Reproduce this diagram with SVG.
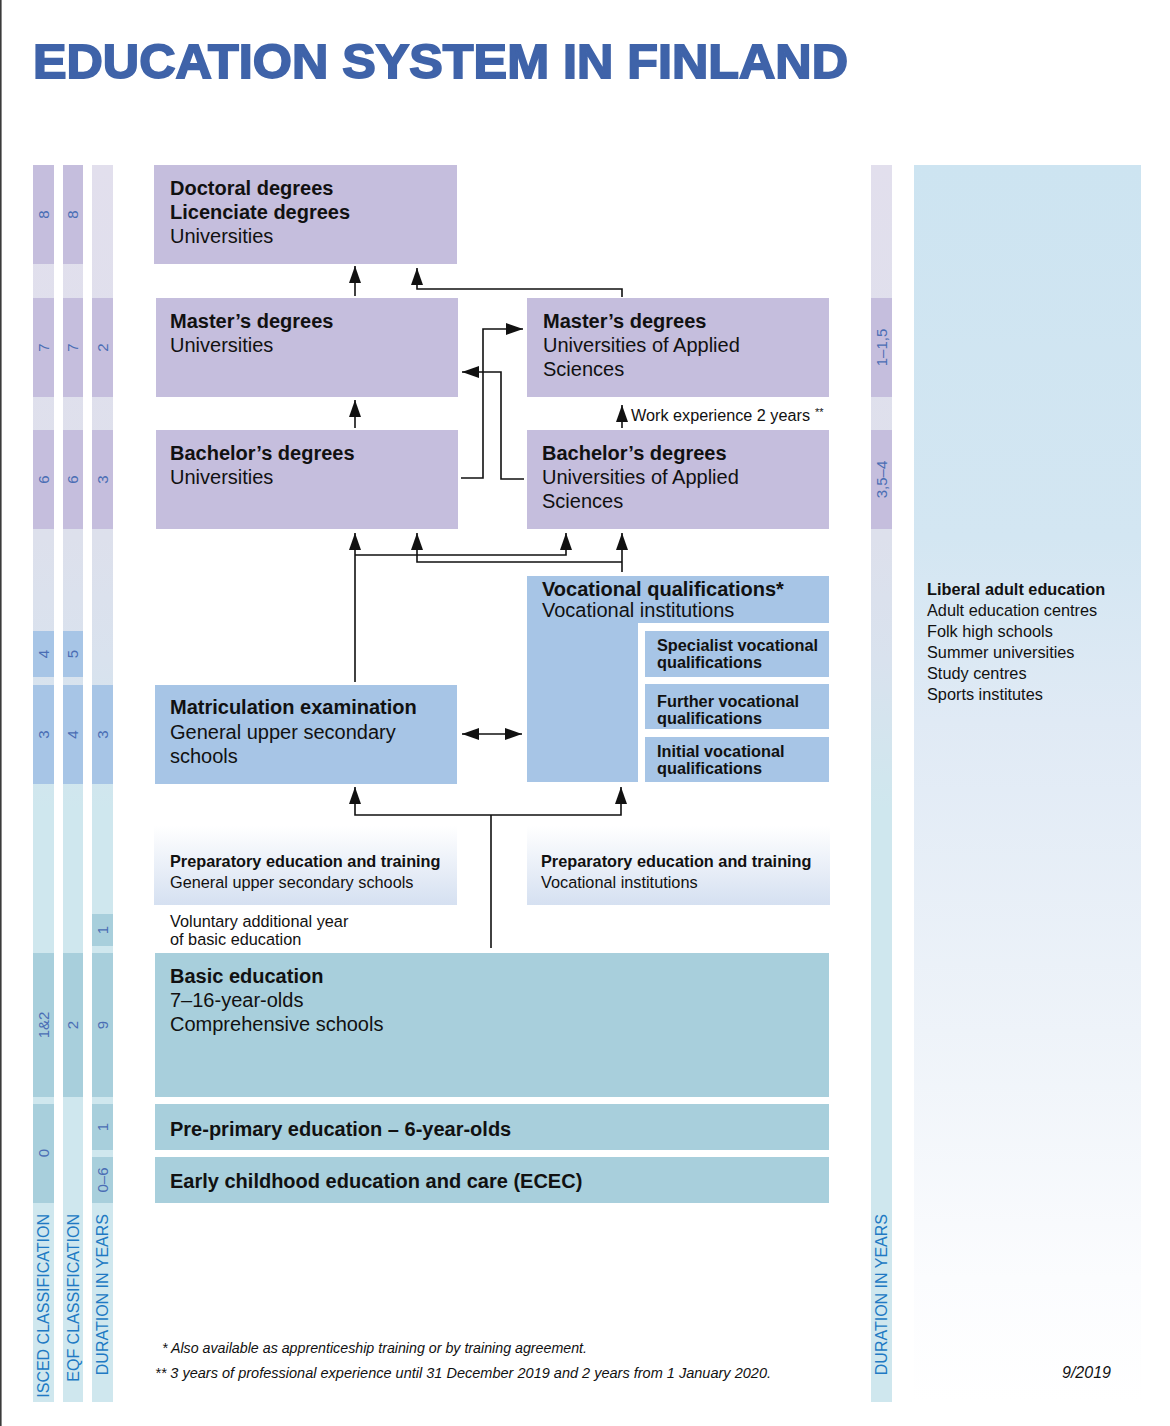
<svg xmlns="http://www.w3.org/2000/svg" width="1170" height="1426" viewBox="0 0 1170 1426">
<style>
text{font-family:"Liberation Sans",Arial,sans-serif;fill:#111}
.b{font-weight:bold}
.t20{font-size:20px}
.t16{font-size:16.3px}
.num{font-size:15px;fill:#4a6db4;text-anchor:middle}
.lab{font-size:16px;fill:#2079c3;text-anchor:end}
.pu{fill:#c5bedd}
.bl{fill:#a7c5e6}
.te{fill:#a8cfdc}
.ln{fill:none;stroke:#111;stroke-width:1.6}
.fn{font-size:14px;font-style:italic}
</style>
<defs>
<marker id="ah" markerUnits="userSpaceOnUse" markerWidth="17" markerHeight="12" refX="17" refY="6" orient="auto-start-reverse" viewBox="0 0 17 12">
<path d="M0,0 L17,6 L0,12 z" fill="#111"/>
</marker>
<linearGradient id="strip" x1="0" y1="165" x2="0" y2="1402" gradientUnits="userSpaceOnUse">
<stop offset="0" stop-color="#e2dfed"/>
<stop offset="0.3" stop-color="#dde0ec"/>
<stop offset="0.4" stop-color="#d9e2ee"/>
<stop offset="0.52" stop-color="#cfe7ee"/>
<stop offset="1" stop-color="#cfe7ee"/>
</linearGradient>
<linearGradient id="prep" x1="0" y1="0" x2="0" y2="1">
<stop offset="0" stop-color="#ffffff"/>
<stop offset="1" stop-color="#d5e0f1"/>
</linearGradient>
<linearGradient id="lib" x1="0" y1="165" x2="0" y2="1402" gradientUnits="userSpaceOnUse">
<stop offset="0" stop-color="#cde4f1"/>
<stop offset="0.3" stop-color="#d3e6f2"/>
<stop offset="0.45" stop-color="#e0eaf5"/>
<stop offset="0.7" stop-color="#eef3f9"/>
<stop offset="0.9" stop-color="#fbfcfe"/>
<stop offset="1" stop-color="#ffffff"/>
</linearGradient>
</defs>
<rect x="0" y="0" width="1170" height="1426" fill="#ffffff"/>
<rect x="0" y="0" width="1.6" height="1426" fill="#3a3a3a"/>
<text x="33" y="78" font-size="49" font-weight="bold" textLength="815" lengthAdjust="spacingAndGlyphs" style="fill:#3f63a9;stroke:#3f63a9;stroke-width:1.8">EDUCATION SYSTEM IN FINLAND</text>

<g id="isced-strip">
<rect x="33" y="165" width="21" height="1237" fill="url(#strip)"/>
<rect class="pu" x="33" y="165" width="21" height="99"/>
<rect class="pu" x="33" y="298" width="21" height="99"/>
<rect class="pu" x="33" y="430" width="21" height="99"/>
<rect class="bl" x="33" y="631" width="21" height="46"/>
<rect class="bl" x="33" y="685" width="21" height="99"/>
<rect class="te" x="33" y="953" width="21" height="144"/>
<rect class="te" x="33" y="1104" width="21" height="99"/>
<text class="num" transform="translate(43.5,214.5) rotate(-90)" dy="0.35em">8</text>
<text class="num" transform="translate(43.5,347.5) rotate(-90)" dy="0.35em">7</text>
<text class="num" transform="translate(43.5,479.5) rotate(-90)" dy="0.35em">6</text>
<text class="num" transform="translate(43.5,654) rotate(-90)" dy="0.35em">4</text>
<text class="num" transform="translate(43.5,734.5) rotate(-90)" dy="0.35em">3</text>
<text class="num" transform="translate(43.5,1025) rotate(-90)" dy="0.35em">1&amp;2</text>
<text class="num" transform="translate(43.5,1153) rotate(-90)" dy="0.35em">0</text>
<text class="lab" transform="translate(43.5,1214) rotate(-90)" dy="0.35em">ISCED CLASSIFICATION</text>
</g>

<g id="eqf-strip">
<rect x="63" y="165" width="20" height="1237" fill="url(#strip)"/>
<rect class="pu" x="63" y="165" width="20" height="99"/>
<rect class="pu" x="63" y="298" width="20" height="99"/>
<rect class="pu" x="63" y="430" width="20" height="99"/>
<rect class="bl" x="63" y="631" width="20" height="46"/>
<rect class="bl" x="63" y="685" width="20" height="99"/>
<rect class="te" x="63" y="953" width="20" height="144"/>
<text class="num" transform="translate(73,214.5) rotate(-90)" dy="0.35em">8</text>
<text class="num" transform="translate(73,347.5) rotate(-90)" dy="0.35em">7</text>
<text class="num" transform="translate(73,479.5) rotate(-90)" dy="0.35em">6</text>
<text class="num" transform="translate(73,654) rotate(-90)" dy="0.35em">5</text>
<text class="num" transform="translate(73,734.5) rotate(-90)" dy="0.35em">4</text>
<text class="num" transform="translate(73,1025) rotate(-90)" dy="0.35em">2</text>
<text class="lab" transform="translate(73,1214) rotate(-90)" dy="0.35em">EQF CLASSIFICATION</text>
</g>

<g id="duration-strip">
<rect x="92" y="165" width="21" height="1237" fill="url(#strip)"/>
<rect class="pu" x="92" y="298" width="21" height="99"/>
<rect class="pu" x="92" y="430" width="21" height="99"/>
<rect class="bl" x="92" y="685" width="21" height="99"/>
<rect class="te" x="92" y="914" width="21" height="32"/>
<rect class="te" x="92" y="953" width="21" height="144"/>
<rect class="te" x="92" y="1104" width="21" height="46"/>
<rect class="te" x="92" y="1157" width="21" height="46"/>
<text class="num" transform="translate(102.5,347.5) rotate(-90)" dy="0.35em">2</text>
<text class="num" transform="translate(102.5,479.5) rotate(-90)" dy="0.35em">3</text>
<text class="num" transform="translate(102.5,734.5) rotate(-90)" dy="0.35em">3</text>
<text class="num" transform="translate(102.5,930) rotate(-90)" dy="0.35em">1</text>
<text class="num" transform="translate(102.5,1025) rotate(-90)" dy="0.35em">9</text>
<text class="num" transform="translate(102.5,1127) rotate(-90)" dy="0.35em">1</text>
<text class="num" transform="translate(102.5,1180) rotate(-90)" dy="0.35em">0–6</text>
<text class="lab" transform="translate(102.5,1214) rotate(-90)" dy="0.35em">DURATION IN YEARS</text>
</g>

<g id="adult-duration-strip">
<rect x="871" y="165" width="21" height="1237" fill="url(#strip)"/>
<rect class="pu" x="871" y="298" width="21" height="99"/>
<rect class="pu" x="871" y="430" width="21" height="99"/>
<text class="num" transform="translate(881.5,347.5) rotate(-90)" dy="0.35em">1–1,5</text>
<text class="num" transform="translate(881.5,479.5) rotate(-90)" dy="0.35em">3,5–4</text>
<text class="lab" transform="translate(881.5,1214) rotate(-90)" dy="0.35em">DURATION IN YEARS</text>
</g>

<g id="liberal-adult">
<rect x="914" y="165" width="227" height="1237" fill="url(#lib)"/>
<text class="t16 b" x="927" y="595">Liberal adult education</text>
<text class="t16" x="927" y="616">Adult education centres</text>
<text class="t16" x="927" y="637">Folk high schools</text>
<text class="t16" x="927" y="658">Summer universities</text>
<text class="t16" x="927" y="679">Study centres</text>
<text class="t16" x="927" y="700">Sports institutes</text>
</g>

<g id="doctoral">
<rect class="pu" x="154" y="165" width="303" height="99"/>
<text class="t20 b" x="170" y="195">Doctoral degrees</text>
<text class="t20 b" x="170" y="219">Licenciate degrees</text>
<text class="t20" x="170" y="243">Universities</text>
</g>
<g id="masters-uni">
<rect class="pu" x="156" y="298" width="302" height="99"/>
<text class="t20 b" x="170" y="328">Master’s degrees</text>
<text class="t20" x="170" y="352">Universities</text>
</g>
<g id="masters-uas">
<rect class="pu" x="527" y="298" width="302" height="99"/>
<text class="t20 b" x="543" y="328">Master’s degrees</text>
<text class="t20" x="543" y="352">Universities of Applied</text>
<text class="t20" x="543" y="376">Sciences</text>
</g>
<g id="bachelors-uni">
<rect class="pu" x="156" y="430" width="302" height="99"/>
<text class="t20 b" x="170" y="460">Bachelor’s degrees</text>
<text class="t20" x="170" y="484">Universities</text>
</g>
<g id="bachelors-uas">
<rect class="pu" x="527" y="430" width="302" height="99"/>
<text class="t20 b" x="542" y="460">Bachelor’s degrees</text>
<text class="t20" x="542" y="484">Universities of Applied</text>
<text class="t20" x="542" y="508">Sciences</text>
</g>
<g id="vocational">
<path class="bl" d="M527,576 H829 V623 H638 V782 H527 Z"/>
<text class="t20 b" x="542" y="596">Vocational qualifications*</text>
<text class="t20" x="542" y="617">Vocational institutions</text>
</g>
<g id="specialist">
<rect class="bl" x="645" y="631" width="184" height="46"/>
<text class="t16 b" x="657" y="651">Specialist vocational</text>
<text class="t16 b" x="657" y="668">qualifications</text>
</g>
<g id="further">
<rect class="bl" x="645" y="684" width="184" height="45"/>
<text class="t16 b" x="657" y="707">Further vocational</text>
<text class="t16 b" x="657" y="724">qualifications</text>
</g>
<g id="initial">
<rect class="bl" x="645" y="737" width="184" height="45"/>
<text class="t16 b" x="657" y="757">Initial vocational</text>
<text class="t16 b" x="657" y="774">qualifications</text>
</g>
<g id="matriculation">
<rect class="bl" x="155" y="685" width="302" height="99"/>
<text class="t20 b" x="170" y="714">Matriculation examination</text>
<text class="t20" x="170" y="739">General upper secondary</text>
<text class="t20" x="170" y="763">schools</text>
</g>
<g id="prep-general">
<rect x="154" y="826" width="303" height="79" fill="url(#prep)"/>
<text class="t16 b" x="170" y="867">Preparatory education and training</text>
<text class="t16" x="170" y="888">General upper secondary schools</text>
</g>
<g id="prep-vocational">
<rect x="527" y="826" width="303" height="79" fill="url(#prep)"/>
<text class="t16 b" x="541" y="867">Preparatory education and training</text>
<text class="t16" x="541" y="888">Vocational institutions</text>
</g>
<g id="voluntary-year">
<text class="t16" x="170" y="927">Voluntary additional year</text>
<text class="t16" x="170" y="945">of basic education</text>
</g>
<g id="basic">
<rect class="te" x="155" y="953" width="674" height="144"/>
<text class="t20 b" x="170" y="983">Basic education</text>
<text class="t20" x="170" y="1007">7–16-year-olds</text>
<text class="t20" x="170" y="1031">Comprehensive schools</text>
</g>
<g id="pre-primary">
<rect class="te" x="155" y="1104" width="674" height="46"/>
<text class="t20 b" x="170" y="1136">Pre-primary education – 6-year-olds</text>
</g>
<g id="ecec">
<rect class="te" x="155" y="1157" width="674" height="46"/>
<text class="t20 b" x="170" y="1188">Early childhood education and care (ECEC)</text>
</g>

<g id="connectors">
<path class="ln" d="M355,296 V266" marker-end="url(#ah)"/>
<path class="ln" d="M622,297 V289 H417 V268" marker-end="url(#ah)"/>
<path class="ln" d="M355,428 V400" marker-end="url(#ah)"/>
<path class="ln" d="M461,478 H483 V329 H523" marker-end="url(#ah)"/>
<path class="ln" d="M524,479 H501 V372 H462" marker-end="url(#ah)"/>
<path class="ln" d="M622,428 V405" marker-end="url(#ah)"/>
<path class="ln" d="M355,682 V533" marker-end="url(#ah)"/>
<path class="ln" d="M355,555 H566 V533" marker-end="url(#ah)"/>
<path class="ln" d="M622,572 V533" marker-end="url(#ah)"/>
<path class="ln" d="M622,562 H417 V533" marker-end="url(#ah)"/>
<path class="ln" d="M462,734 H522" marker-start="url(#ah)" marker-end="url(#ah)"/>
<path class="ln" d="M491,948 V815"/>
<path class="ln" d="M491,815 H355 V787" marker-end="url(#ah)"/>
<path class="ln" d="M491,815 H621 V787" marker-end="url(#ah)"/>
<text x="631" y="421" font-size="16" textLength="179" lengthAdjust="spacingAndGlyphs">Work experience 2 years</text>
<text x="815" y="416" font-size="11">**</text>
</g>

<g id="footnotes">
<text class="fn" x="162" y="1353" textLength="425" lengthAdjust="spacingAndGlyphs">* Also available as apprenticeship training or by training agreement.</text>
<text class="fn" x="155" y="1378" textLength="616" lengthAdjust="spacingAndGlyphs">** 3 years of professional experience until 31 December 2019 and 2 years from 1 January 2020.</text>
<text x="1062" y="1378" font-size="16" font-style="italic">9/2019</text>
</g>
</svg>
